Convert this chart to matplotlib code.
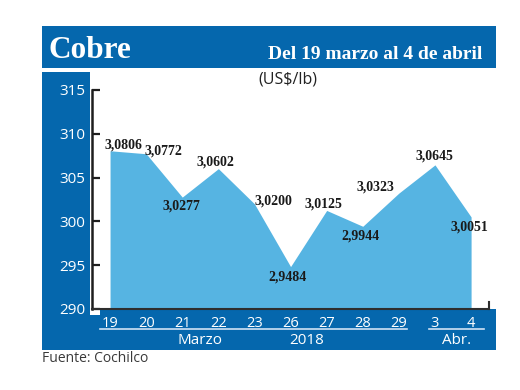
import matplotlib
matplotlib.use("Agg")
import matplotlib.pyplot as plt
from matplotlib.patches import Rectangle
from matplotlib.lines import Line2D

# ---- data ----
days = ["19", "20", "21", "22", "23", "26", "27", "28", "29", "3", "4"]
prices = [308.06, 307.72, 302.77, 306.02, 302.00, 294.84, 301.25, 299.44, 303.23, 306.45, 300.51]
price_labels = ["3,0806", "3,0772", "3,0277", "3,0602", "3,0200", "2,9484",
                "3,0125", "2,9944", "3,0323", "3,0645", "3,0051"]
yticks = [290, 295, 300, 305, 310, 315]
# label offsets (pixels) relative to each vertex
label_dx = [13, 17, -1, -3, 19, -3, -3, -2, -23, -1, -2]
label_dy = [6, 3, -9, 7, 3, -10, 6, -10, 6, 9, -10]

DARK = "#0567AD"
LIGHT = "#56B4E2"
W, H = 520, 390

def fx(x):
    return x / W

def fy(y):
    return 1 - y / H

fig = plt.figure(figsize=(5.2, 3.9), dpi=100)
fig.patch.set_facecolor("white")

def rect(x0, y0, x1, y1, color):
    fig.add_artist(Rectangle((fx(x0), fy(y1)), (x1 - x0) / W, (y1 - y0) / H,
                             transform=fig.transFigure, color=color, lw=0, zorder=-5))

# header
rect(42, 26, 496, 68, DARK)
# left band
rect(42, 72, 90, 350, DARK)
# bottom band
rect(42, 315, 496, 350, DARK)
rect(100, 309, 496, 315, DARK)

ax = fig.add_axes([fx(92), fy(309), (496 - 92) / W, (309 - 72) / H])
ax.set_facecolor("none")
x = list(range(len(days)))
ax.fill_between(x, prices, 290, color=LIGHT, lw=0, zorder=1)
ax.set_xlim(-0.5, 10.69)
ax.set_ylim(290, 317.05)

for s in ["top", "right"]:
    ax.spines[s].set_visible(False)
ax.spines["left"].set_bounds(290, 315)
ax.spines["left"].set_color("#1e1e1e")
ax.spines["left"].set_linewidth(1.8)
ax.spines["bottom"].set_bounds(-0.5, 10.5)
ax.spines["bottom"].set_color("#2e2e2e")
ax.spines["bottom"].set_linewidth(1.5)
ax.spines["bottom"].set_zorder(3)

ax.set_yticks(yticks)
ax.set_yticklabels([str(t) for t in yticks])
ax.tick_params(axis="y", direction="in", length=6, width=1.6, color="#1e1e1e",
               labelcolor="white", labelsize=11, pad=5)
for lab in ax.get_yticklabels():
    lab.set_family("Open Sans")

ax.set_xticks(x)
ax.set_xticklabels(days)
ax.tick_params(axis="x", length=0, labelcolor="white", labelsize=10.5, pad=5)
for lab in ax.get_xticklabels():
    lab.set_family("Open Sans")

ax.plot([10.5, 10.5], [290, 290.8], color="#2e2e2e", lw=1.5, clip_on=False, zorder=3)

for xi, p, lab, dx, dy in zip(x, prices, price_labels, label_dx, label_dy):
    ax.annotate(lab, (xi, p), xytext=(dx, dy), textcoords="offset pixels",
                ha="center", va="center", fontsize=10, fontweight="bold",
                family="Liberation Serif", color="#1a1a1a", zorder=4)

# header texts
fig.text(fx(49), fy(58), "Cobre", ha="left", va="baseline", fontsize=22.5,
         fontweight="bold", family="Liberation Serif", color="white")
fig.text(fx(482), fy(59), "Del 19 marzo al 4 de abril", ha="right", va="baseline",
         fontsize=14, fontweight="bold", family="Liberation Serif", color="white")

fig.text(fx(288), fy(80), "(US$/lb)", ha="center", va="center", fontsize=11.5,
         family="Open Sans", color="#222222")

# month / year labels
fig.add_artist(Line2D([fx(100), fx(407)], [fy(329), fy(329)], transform=fig.transFigure,
                      color="#cfe2f4", lw=1.2))
fig.add_artist(Line2D([fx(429), fx(484)], [fy(329), fy(329)], transform=fig.transFigure,
                      color="#cfe2f4", lw=1.2))
fig.text(fx(200), fy(340), "Marzo", ha="center", va="center", fontsize=11,
         family="Open Sans", color="white")
fig.text(fx(307), fy(340), "2018", ha="center", va="center", fontsize=11,
         family="Open Sans", color="white")
fig.text(fx(457), fy(340), "Abr.", ha="center", va="center", fontsize=11,
         family="Open Sans", color="white")

fig.text(fx(42), fy(358), "Fuente: Cochilco", ha="left", va="center", fontsize=10,
         family="Open Sans", color="#3a3a3a")

fig.savefig("out.png", dpi=100, facecolor="white")
